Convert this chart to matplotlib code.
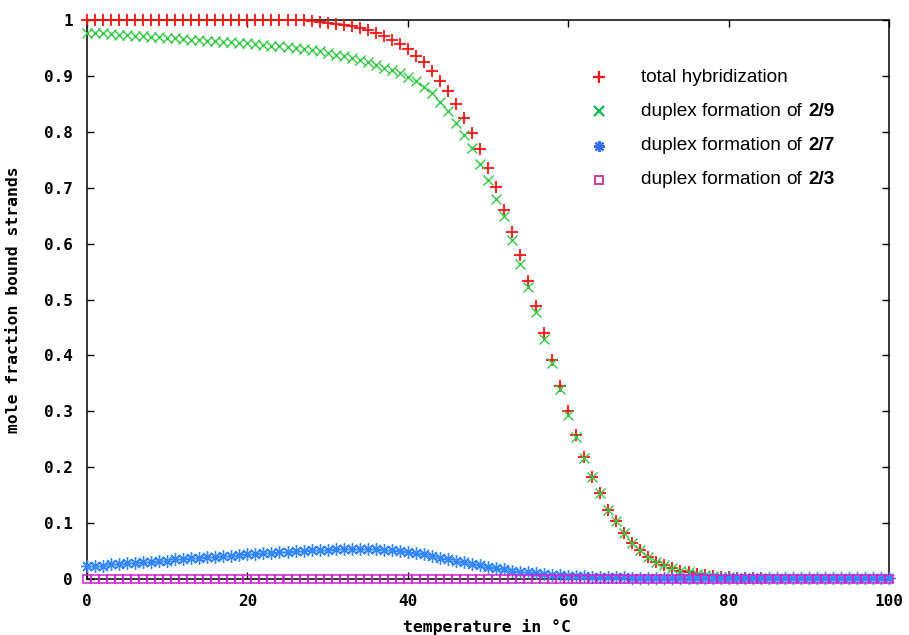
import numpy as np
import matplotlib
matplotlib.use("Agg")
import matplotlib.pyplot as plt

# ---------------- data ----------------
temp_total = list(range(0, 85))
total_hybridization = [1.0] * 28 + [
    0.998, 0.997, 0.995, 0.993, 0.991, 0.989, 0.986, 0.982, 0.977, 0.972,
    0.964, 0.957, 0.948, 0.936, 0.924, 0.908, 0.891, 0.873, 0.849, 0.825,
    0.797, 0.770, 0.736, 0.702, 0.660, 0.620, 0.579, 0.533, 0.488, 0.440,
    0.392, 0.346, 0.300, 0.258, 0.219, 0.183, 0.154, 0.124, 0.103, 0.082,
    0.064, 0.052, 0.040, 0.031, 0.025, 0.019, 0.015, 0.012, 0.009, 0.007,
    0.005, 0.004, 0.003, 0.002, 0.002, 0.001, 0.001]

temp_29 = list(range(0, 85))
duplex_2_9 = [
    0.977, 0.976, 0.976, 0.975, 0.974, 0.973, 0.972, 0.971, 0.970, 0.969,
    0.968, 0.967, 0.966, 0.965, 0.964, 0.963, 0.962, 0.961, 0.960, 0.959,
    0.958, 0.957, 0.956, 0.954, 0.953, 0.951, 0.950, 0.948, 0.946, 0.944,
    0.941, 0.938, 0.935, 0.932, 0.928, 0.924, 0.920, 0.915, 0.910, 0.905,
    0.898, 0.890, 0.881, 0.869, 0.853, 0.837, 0.816, 0.795, 0.771, 0.743,
    0.713, 0.680, 0.649, 0.607, 0.563, 0.522, 0.477, 0.430, 0.387, 0.339,
    0.294, 0.254, 0.216, 0.183, 0.154, 0.124, 0.103, 0.082, 0.064, 0.052,
    0.040, 0.031, 0.025, 0.019, 0.015, 0.012, 0.009, 0.007, 0.005, 0.004,
    0.003, 0.002, 0.002, 0.001, 0.001]

temp_27 = list(range(0, 101))
duplex_2_7 = [
    0.023, 0.023, 0.024, 0.026, 0.027, 0.028, 0.029, 0.030, 0.031, 0.032,
    0.033, 0.035, 0.036, 0.037, 0.038, 0.039, 0.040, 0.041, 0.042, 0.043,
    0.044, 0.045, 0.046, 0.047, 0.048, 0.049, 0.050, 0.050, 0.051, 0.052,
    0.052, 0.053, 0.053, 0.054, 0.054, 0.054, 0.053, 0.052, 0.051, 0.050,
    0.048, 0.046, 0.044, 0.041, 0.038, 0.036, 0.033, 0.030, 0.027, 0.025,
    0.022, 0.020, 0.017, 0.015, 0.013, 0.012, 0.010, 0.009, 0.008, 0.007,
    0.006, 0.005, 0.005, 0.004, 0.004, 0.003, 0.003, 0.003, 0.002, 0.002,
    0.002] + [0.001] * 30

temp_23 = list(range(0, 101))
duplex_2_3 = [0.0] * 101

x_ticks = [0, 20, 40, 60, 80, 100]
x_tick_labels = ["0", "20", "40", "60", "80", "100"]
y_ticks = [0, 0.1, 0.2, 0.3, 0.4, 0.5, 0.6, 0.7, 0.8, 0.9, 1.0]
y_tick_labels = ["0", "0.1", "0.2", "0.3", "0.4", "0.5", "0.6", "0.7", "0.8", "0.9", "1"]

legend_labels = ["total hybridization", "duplex formation", "duplex formation", "duplex formation"]
legend_suffix = ["", "2/9", "2/7", "2/3"]

# ---------------- styles ----------------
RED = "#ff1010"
GREEN = "#30c840"
BLUE = "#3388ff"
MAG = "#d020d0"
ASTER = (8, 2, 0)

W, H = 909, 635
fig = plt.figure(figsize=(W / 100, H / 100), dpi=100)
L, R, T, B = 87, 889, 20, 579
ax = fig.add_axes([L / W, 1 - B / H, (R - L) / W, (B - T) / H])

mono = "DejaVu Sans Mono"

ax.plot(temp_total, total_hybridization, linestyle="none", marker="+",
        markersize=8, markeredgewidth=1.3, color=RED, clip_on=False, zorder=3)
ax.plot(temp_29, duplex_2_9, linestyle="none", marker="x",
        markersize=7.5, markeredgewidth=1.0, color=GREEN, clip_on=False, zorder=4)
ax.plot(temp_27, duplex_2_7, linestyle="none", marker=ASTER,
        markersize=9, markeredgewidth=1.0, color=BLUE, clip_on=False, zorder=5)
ax.plot(temp_23, duplex_2_3, linestyle="none", marker="s",
        markersize=5.6, markeredgewidth=1.1, markerfacecolor="none",
        markeredgecolor=MAG, clip_on=False, zorder=6)

ax.set_xlim(0, 100)
ax.set_ylim(0, 1)
ax.set_xticks(x_ticks)
ax.set_xticklabels(x_tick_labels)
ax.set_yticks(y_ticks)
ax.set_yticklabels(y_tick_labels)
ax.tick_params(direction="in", length=5, width=1.0, top=True, right=True,
               labelsize=11.5, color="black")
ax.tick_params(axis="y", pad=10)
ax.tick_params(axis="x", pad=10.5)
for lab in ax.get_xticklabels() + ax.get_yticklabels():
    lab.set_fontfamily(mono)
    lab.set_fontweight("bold")
for sp in ax.spines.values():
    sp.set_linewidth(1.1)
    sp.set_zorder(2)

fig.text(487 / W, 1 - 627 / H, "temperature in °C", ha="center", va="center",
         fontfamily=mono, fontweight="bold", fontsize=11.8)
fig.text(14 / W, 1 - 300 / H, "mole fraction bound strands", ha="center", va="center",
         rotation=90, fontfamily=mono, fontweight="bold", fontsize=11.8)

# ---------------- legend ----------------
rows_y = [77, 111, 146, 180]
markers = [("+", RED, 1.6, 9), ("x", "#10b850", 1.6, 6.5), (ASTER, "#3a70f0", 1.6, 8), ("s", "#c83ca8", 1.4, 6)]
for i, (yy, (mk, col, mew, ms)) in enumerate(zip(rows_y, markers)):
    fy = 1 - yy / H
    kw = dict(markerfacecolor="none") if mk == "s" else {}
    fig.add_artist(plt.Line2D([599 / W], [fy], marker=mk, color=col, markersize=ms,
                              markeredgewidth=mew, linestyle="none",
                              transform=fig.transFigure, **kw))
    fig.text(641 / W, fy, legend_labels[i], ha="left", va="center",
             fontfamily="Liberation Sans", fontsize=13.7)
    if legend_suffix[i]:
        fig.text(786 / W, fy, "of", ha="left", va="center",
                 fontfamily="Liberation Sans", fontsize=13.7)
        fig.text(808 / W, fy, legend_suffix[i], ha="left", va="center",
                 fontfamily="Liberation Sans", fontweight="bold", fontsize=13.7)

fig.savefig("out.png", dpi=100)
